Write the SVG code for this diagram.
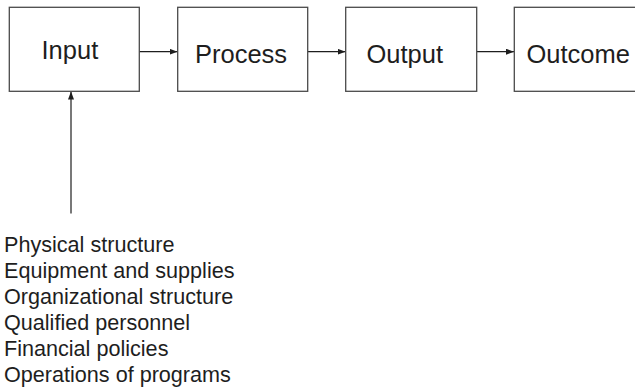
<svg xmlns="http://www.w3.org/2000/svg" width="635" height="389" viewBox="0 0 635 389">
  <style>
    .box { fill: #ffffff; stroke: #4a4a4a; stroke-width: 1.3; }
    .label { font-family: "Liberation Sans", Arial, sans-serif; font-size: 25.5px; fill: #1e1e1e; }
    .list { font-family: "Liberation Sans", Arial, sans-serif; font-size: 21.6px; fill: #1e1e1e; }
    .link { stroke: #1e1e1e; stroke-width: 1.2; fill: none; marker-end: url(#head); }
  </style>
  <defs>
    <marker id="head" viewBox="0 0 8 6" refX="8" refY="3" markerWidth="8" markerHeight="6" markerUnits="userSpaceOnUse" orient="auto">
      <path d="M0,0 L8,3 L0,6 Z" fill="#1e1e1e"/>
    </marker>
  </defs>
  <rect width="635" height="389" fill="#ffffff"/>

  <g id="connectors">
    <line class="link" x1="139" y1="51.7" x2="177.5" y2="51.7"/>
    <line class="link" x1="308" y1="51.7" x2="345.5" y2="51.7"/>
    <line class="link" x1="477" y1="51.7" x2="514" y2="51.7"/>
    <line class="link" x1="71" y1="213.5" x2="71" y2="91.5"/>
  </g>

  <g id="node-input">
    <rect class="box" x="9.3" y="7.3" width="130" height="84"/>
    <text class="label" x="41.5" y="59.3">Input</text>
  </g>
  <g id="node-process">
    <rect class="box" x="177.7" y="7.3" width="130" height="84"/>
    <text class="label" x="195" y="62.7">Process</text>
  </g>
  <g id="node-output">
    <rect class="box" x="345.7" y="7.3" width="131" height="84"/>
    <text class="label" x="366.5" y="62.7">Output</text>
  </g>
  <g id="node-outcome">
    <rect class="box" x="514.3" y="7.3" width="130" height="84"/>
    <text class="label" x="526.5" y="62.7">Outcome</text>
  </g>

  <g id="input-factors">
    <text class="list" x="4" y="252">Physical structure</text>
    <text class="list" x="4" y="278">Equipment and supplies</text>
    <text class="list" x="4" y="304">Organizational structure</text>
    <text class="list" x="4" y="330">Qualified personnel</text>
    <text class="list" x="4" y="356">Financial policies</text>
    <text class="list" x="4" y="382">Operations of programs</text>
  </g>
</svg>
